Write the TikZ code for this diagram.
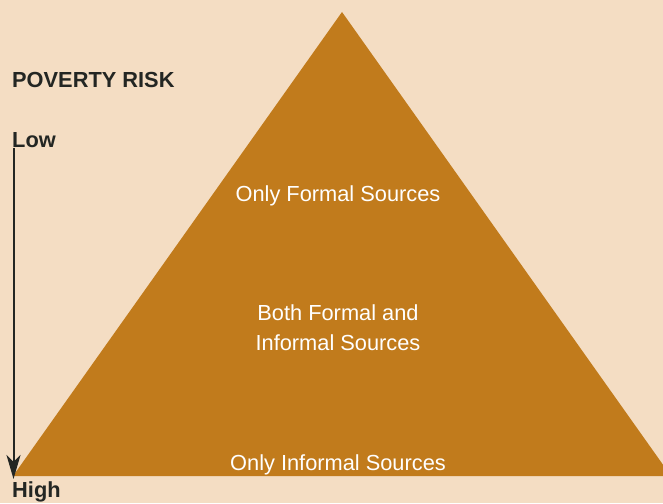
\documentclass[tikz,border=0pt]{standalone}
\usepackage{fontspec}
\setmainfont{Liberation Sans}
\usepackage{tikz}
\usetikzlibrary{arrows.meta}

\definecolor{paper}{RGB}{244,221,195}
\definecolor{ochre}{RGB}{193,123,28}
\definecolor{ink}{RGB}{35,38,35}

\begin{document}
\begin{tikzpicture}[x=1pt,y=-1pt]
  \clip (0,0) rectangle (663,503);
  \fill[paper] (0,0) rectangle (663,503);

  % the pyramid, its right corner runs past the edge
  \fill[ochre] (342,12) -- (671,476) -- (13,476) -- cycle;

  \node at (12,87) [anchor=base west,inner sep=0pt,text=ink,font=\fontsize{21.8}{25}\selectfont\bfseries] (risk) {
    POVERTY RISK
  };

  \node at (12,147) [anchor=base west,inner sep=0pt,text=ink,font=\fontsize{21.8}{25}\selectfont\bfseries] (low) {
    Low
  };

  \node at (12,497) [anchor=base west,inner sep=0pt,text=ink,font=\fontsize{21.8}{25}\selectfont\bfseries] (high) {
    High
  };

  \node at (338,201.7) [anchor=base,inner sep=0pt,text=white,font=\fontsize{21.8}{25}\selectfont] (formal) {
    Only Formal Sources
  };

  \node at (338,350) [anchor=base,inner sep=0pt,text=white,align=center,font=\fontsize{21.8}{30}\selectfont] (both) {
    Both Formal and\\Informal Sources
  };

  \node at (338,470) [anchor=base,inner sep=0pt,text=white,font=\fontsize{21.8}{25}\selectfont] (informal) {
    Only Informal Sources
  };

  \draw[-{Stealth[length=24pt,width=14pt,inset=7pt]},line width=2pt,ink, shorten <=1pt, shorten >=2pt] ([xshift=1.5pt]low.south west) -- ([xshift=1.5pt]high.north west);
\end{tikzpicture}
\end{document}
